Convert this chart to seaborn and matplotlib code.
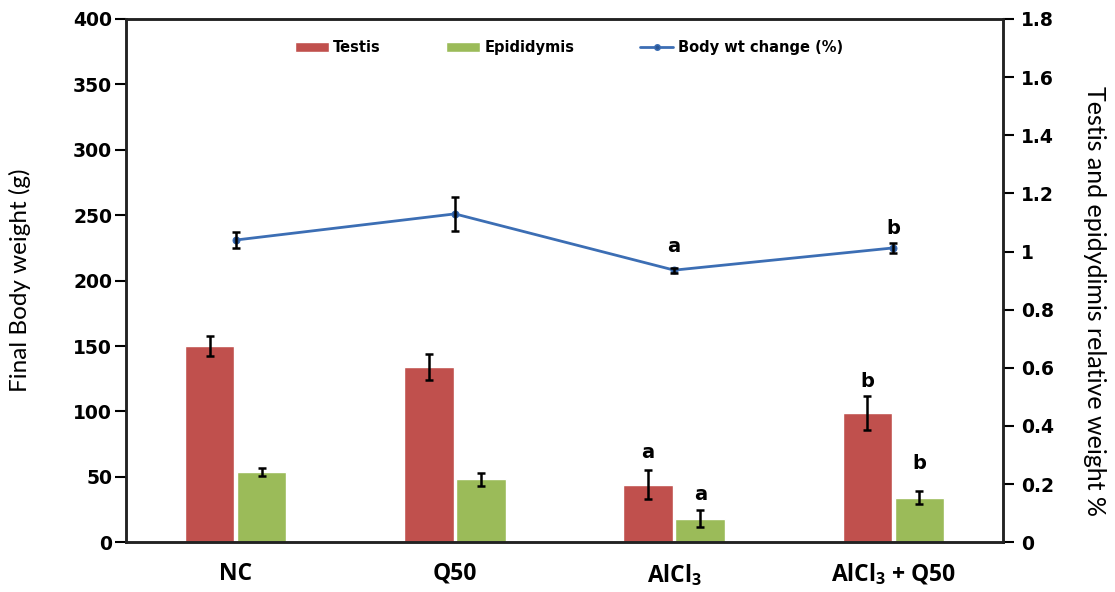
import matplotlib
matplotlib.use('Agg')
import matplotlib.pyplot as plt
from matplotlib.patches import Patch
from matplotlib.lines import Line2D
import seaborn as sns
import pandas as pd
import numpy as np

# datos
grupos = ['NC', 'Q50', 'AlCl$_3$', 'AlCl$_3$ + Q50']
testis = [150, 134, 44, 99]
testis_err = [7.5, 10, 11, 13]
epididymis = [54, 48, 18, 34]
epididymis_err = [3, 5, 6.5, 5]
body_wt = [231, 251, 208, 225]
body_wt_err = [6, 13, 2, 4]
letras_testis = ['', '', 'a', 'b']
letras_epi = ['', '', 'a', 'b']
letras_body = ['', '', 'a', 'b']

rojo = '#C0504D'
verde = '#9BBB59'
azul = '#3C6EB4'

sns.set_style('ticks')
plt.rcParams['font.family'] = ['DejaVu Sans']
plt.rcParams['mathtext.default'] = 'regular'
plt.rcParams['text.color'] = 'black'
plt.rcParams['axes.labelcolor'] = 'black'
plt.rcParams['xtick.color'] = 'black'
plt.rcParams['ytick.color'] = 'black'

df = pd.DataFrame({
    'Grupo': grupos * 2,
    'Organo': ['Testis'] * 4 + ['Epididymis'] * 4,
    'Valor': testis + epididymis,
})

fig = plt.figure(figsize=(11.15, 5.92), dpi=100)
ax = fig.add_axes([0.113, 0.084, 0.7866, 0.884])

sns.barplot(data=df, x='Grupo', y='Valor', hue='Organo', order=grupos,
            hue_order=['Testis', 'Epididymis'], palette=[rojo, verde], saturation=1,
            width=0.475, gap=0.05, errorbar=None, legend=False, ax=ax)

# barras de error y letras sobre las barras
series = [(testis, testis_err, letras_testis, [13, 10.5]),
          (epididymis, epididymis_err, letras_epi, [11, 20])]
for cont, (vals, errs, letras, desfase) in zip(ax.containers, series):
    xs = [p.get_x() + p.get_width() / 2 for p in cont.patches]
    ax.errorbar(xs, vals, yerr=errs, fmt='none', ecolor='black',
                elinewidth=1.8, capsize=2.8, capthick=1.8, zorder=4)
    k = 0
    for x, v, e, l in zip(xs, vals, errs, letras):
        if l:
            ax.annotate(l, (x, v + e), xytext=(0, desfase[k]), textcoords='offset points',
                        ha='center', va='center', fontsize=14, fontweight='bold')
            k += 1

# linea de cambio de peso corporal
x_linea = np.arange(len(grupos))
sns.lineplot(x=x_linea, y=body_wt, color=azul, linewidth=2, marker='o',
             markersize=5, markerfacecolor='#2B5797', markeredgecolor=azul, ax=ax, zorder=5)
ax.errorbar(x_linea, body_wt, yerr=body_wt_err, fmt='none', ecolor='black',
            elinewidth=1.8, capsize=2.8, capthick=1.8, zorder=6)
desfase_body = [15, 10]
k = 0
for x, v, e, l in zip(x_linea, body_wt, body_wt_err, letras_body):
    if l:
        ax.annotate(l, (x, v + e), xytext=(0, desfase_body[k]), textcoords='offset points',
                    ha='center', va='center', fontsize=14, fontweight='bold')
        k += 1

ax.set_xlim(-0.5, 3.5)
ax.set_ylim(0, 400)
ax.set_yticks(range(0, 401, 50))
ax.set_xlabel('')
ax.set_ylabel('Final Body weight (g)', fontsize=17.5, family='Lato', labelpad=30)
ax.set_xticks(x_linea)
ax.set_xticklabels(grupos, fontsize=16.5, fontweight='bold', family='Open Sans')
ax.tick_params(axis='x', length=0, pad=14)
ax.tick_params(axis='y', direction='out', length=8, width=1.5, labelsize=13.5, pad=2)
for lab in ax.get_yticklabels():
    lab.set_fontweight('bold')
for s in ax.spines.values():
    s.set_linewidth(1.8)
    s.set_color('#222222')

ax2 = ax.twinx()
ax2.set_ylim(0, 1.8)
ticks_der = np.arange(0, 1.81, 0.2)
ax2.set_yticks(ticks_der)
ax2.set_yticklabels([f'{t:g}' for t in np.round(ticks_der, 1)], fontsize=13.5, fontweight='bold')
ax2.tick_params(axis='y', direction='out', length=8, width=1.5, pad=5)
ax2.set_ylabel('Testis and epidydimis relative weight %', fontsize=18, family='Lato',
               rotation=-90, va='center')
ax2.yaxis.set_label_coords(1.104, 0.461)
for s in ax2.spines.values():
    s.set_linewidth(1.8)
    s.set_color('#222222')

handles = [Patch(facecolor=rojo, label='Testis'),
           Patch(facecolor=verde, label='Epididymis'),
           Line2D([0], [0], color=azul, linewidth=2, marker='o', markersize=4,
                  markerfacecolor='#2B5797', label='Body wt change (%)')]
leg = ax.legend(handles=handles, loc='upper center', bbox_to_anchor=(0.505, 0.985), ncol=3,
                frameon=False, prop={'weight': 'bold', 'size': 10.5},
                handlelength=2.3, handleheight=0.7, handletextpad=0.3, columnspacing=4.5)

fig.savefig('out.png', dpi=100)
